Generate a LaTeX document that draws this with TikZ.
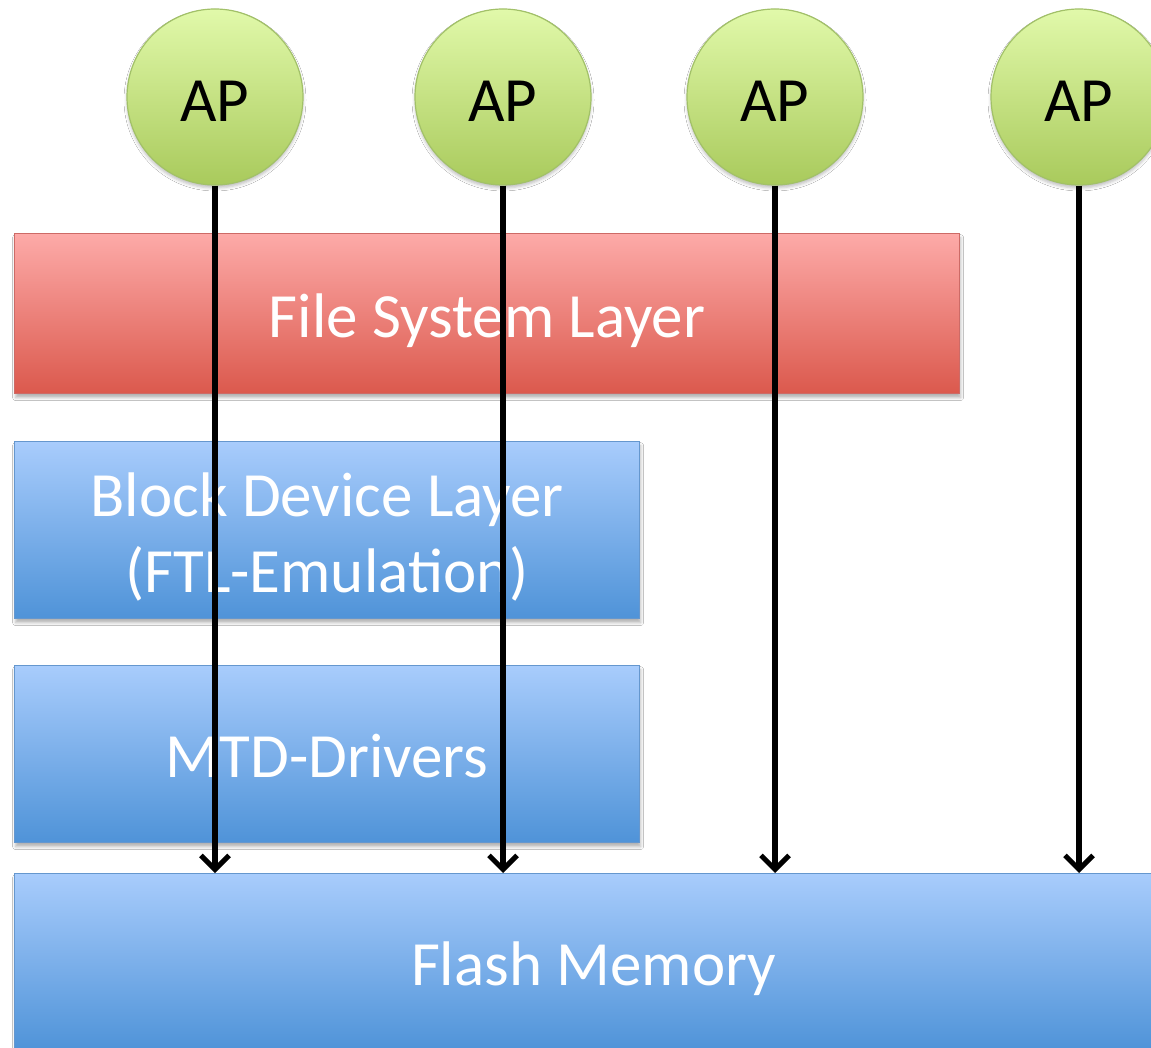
\documentclass[tikz,border=0pt]{standalone}
\usepackage{fontspec}
\setmainfont{Carlito}
\usetikzlibrary{arrows.meta,shadows.blur}

\definecolor{redtop}{HTML}{FDAAA8}
\definecolor{redbot}{HTML}{DB594D}
\definecolor{redline}{HTML}{CD6A66}
\definecolor{bluetop}{HTML}{A8CCFC}
\definecolor{bluebot}{HTML}{4F93D8}
\definecolor{blueline}{HTML}{6597CE}
\definecolor{greentop}{HTML}{E1F9AA}
\definecolor{greenbot}{HTML}{A9CA5C}
\definecolor{greenline}{HTML}{A2C168}

\tikzset{
  x=1pt, y=-1pt,
  layer/.style={rectangle, anchor=north west, inner sep=0pt, line width=1.2pt,
    align=center, text=white, font=\fontsize{63}{75}\selectfont,
    blur shadow={shadow xshift=1pt, shadow yshift=-4pt, shadow blur radius=3pt, shadow opacity=30}},
  oneline/.style={text height=50pt, text depth=3pt},
  fslayer/.style={layer, draw=redline, top color=redtop, bottom color=redbot},
  bluelayer/.style={layer, draw=blueline, top color=bluetop, bottom color=bluebot},
  apnode/.style={circle, minimum size=176pt, inner sep=0pt, line width=1.2pt,
    draw=greenline, top color=greentop, bottom color=greenbot,
    font=\fontsize{63}{75}\selectfont, text=black, text height=52pt, text depth=2pt,
    blur shadow={shadow xshift=0pt, shadow yshift=-3pt, shadow blur radius=3pt, shadow opacity=25}},
  flow/.style={line width=6pt, black, -{Straight Barb[length=14pt, width=28pt, line width=5pt]}}
}

\begin{document}
\begin{tikzpicture}
\useasboundingbox (0,0) rectangle (1151,1048);
\clip (0,0) rectangle (1151,1048);
\fill[white] (0,0) rectangle (1151,1048);

% software stack
\node[fslayer, oneline, minimum width=945pt, minimum height=160pt] (fs) at (14,233) {File System Layer};
\node[bluelayer, minimum width=625pt, minimum height=177pt] (bdl) at (14,441)
  {\raisebox{-9pt}[\height][\depth]{\begin{tabular}{@{}c@{}}Block Device Layer\\[1pt](FTL-Emulation)\end{tabular}}};
\node[bluelayer, oneline, minimum width=625pt, minimum height=177pt] (mtd) at (14,665) {MTD-Drivers};
\node[bluelayer, oneline, minimum width=1158pt, minimum height=177pt] (flash) at (14,873) {Flash Memory};

% application processes
\node[apnode] (ap1) at (215,97) {AP};
\node[apnode] (ap2) at (503,97) {AP};
\node[apnode] (ap3) at (775,97) {AP};
\node[apnode] (ap4) at (1079,97) {AP};

% direct accesses down to the flash
\draw[flow] (ap1.south) -- (ap1.south |- flash.north);
\draw[flow] (ap2.south) -- (ap2.south |- flash.north);
\draw[flow] (ap3.south) -- (ap3.south |- flash.north);
\draw[flow] (ap4.south) -- (ap4.south |- flash.north);
\end{tikzpicture}
\end{document}
